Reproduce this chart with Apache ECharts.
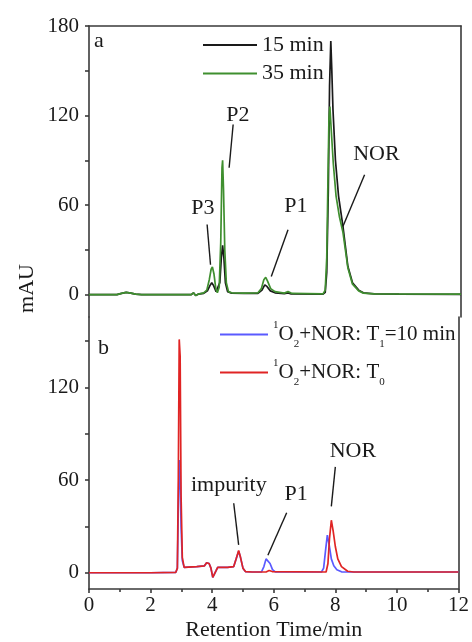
<!DOCTYPE html>
<html>
<head>
<meta charset="utf-8">
<script src="https://cdn.jsdelivr.net/npm/echarts@6/dist/echarts.min.js"></script>
<style>
  html, body { margin: 0; padding: 0; background: #fff; }
  #chart { width: 472px; height: 642px; }
</style>
</head>
<body>
<div id="chart"></div>
<script>
// HPLC traces, each point is [retention time (min), absorbance (mAU)]
const trace15min = [
  [0, 0], [0.9, 0], [1.05, 0.8], [1.2, 1.5], [1.35, 1.0], [1.5, 0.3], [1.7, 0],
  [3.3, 0], [3.37, 1.2], [3.44, -0.6], [3.52, 0.3], [3.7, 0.8], [3.82, 2.5],
  [3.9, 6], [3.96, 8], [4.02, 6], [4.1, 2], [4.16, 1.5], [4.22, 8], [4.27, 25],
  [4.31, 33], [4.35, 25], [4.4, 8], [4.47, 2], [4.6, 1], [5.0, 0.8], [5.45, 0.8],
  [5.58, 3], [5.67, 6.5], [5.74, 5.5], [5.85, 2.5], [6.0, 1.2], [6.3, 0.6],
  [6.42, 1.2], [6.52, 0.5], [7.55, 0.3], [7.62, 1.5], [7.67, 15], [7.72, 70],
  [7.76, 140], [7.8, 170], [7.83, 152], [7.87, 124], [7.95, 90], [8.05, 66],
  [8.19, 46], [8.35, 19], [8.5, 8], [8.7, 3], [8.85, 1.2], [9.2, 0.5],
  [10.0, 0.3], [12, 0.2]
];
const trace35min = [
  [0, 0], [0.9, 0], [1.05, 0.8], [1.2, 1.5], [1.35, 1.0], [1.5, 0.3], [1.7, 0],
  [3.3, 0], [3.37, 1.2], [3.44, -0.6], [3.52, 0.3], [3.7, 1.2], [3.8, 3],
  [3.88, 10], [3.94, 17], [3.98, 18.5], [4.03, 14], [4.09, 4], [4.14, 1.2],
  [4.2, 5], [4.25, 35], [4.29, 85], [4.31, 90], [4.34, 70], [4.38, 30],
  [4.43, 8], [4.5, 2], [4.6, 1.2], [5.0, 1.0], [5.45, 1.2], [5.56, 4],
  [5.64, 10], [5.7, 11.6], [5.76, 9], [5.86, 4], [6.0, 2], [6.3, 1], [6.42, 2],
  [6.55, 0.8], [7.55, 0.5], [7.62, 3], [7.67, 25], [7.71, 80], [7.74, 118],
  [7.77, 126], [7.81, 112], [7.88, 88], [7.97, 66], [8.08, 52], [8.19, 42],
  [8.35, 18], [8.5, 7], [8.7, 2.5], [8.85, 1], [9.2, 0.5], [12, 0.3]
];
const traceT1 = [
  [0, 0], [1.0, 0], [2.0, 0], [2.82, 0.3], [2.87, 3], [2.9, 40], [2.93, 73],
  [2.96, 65], [2.99, 30], [3.03, 8], [3.09, 3.5], [3.15, 4], [3.5, 4],
  [3.75, 4.5], [3.82, 6.5], [3.9, 6], [3.96, 3], [4.02, -3], [4.06, -3.8],
  [4.12, 1], [4.18, 3.5], [4.5, 3.5], [4.7, 4], [4.78, 9], [4.86, 14],
  [4.92, 10], [5.0, 3], [5.08, 0.8], [5.3, 0.5], [5.6, 0.5], [5.68, 4],
  [5.75, 9], [5.81, 10], [5.88, 6], [5.96, 2], [6.05, 0.6], [7.55, 0.5],
  [7.62, 3], [7.68, 14], [7.74, 24.4], [7.8, 18], [7.87, 9], [7.95, 4.5],
  [8.05, 2], [8.2, 0.6], [12, 0.5]
];
const traceT0 = [
  [0, 0], [1.0, 0], [2.0, 0], [2.82, 0.3], [2.87, 3], [2.9, 60], [2.93, 151],
  [2.96, 140], [2.99, 50], [3.03, 10], [3.09, 3.5], [3.15, 4], [3.5, 4],
  [3.75, 4.5], [3.82, 6.5], [3.9, 6], [3.96, 3], [4.02, -3], [4.06, -3.8],
  [4.12, 1], [4.18, 3.5], [4.5, 3.5], [4.7, 4], [4.78, 9], [4.86, 14.4],
  [4.92, 10], [5.0, 3], [5.08, 0.8], [5.3, 0.5], [5.75, 0.5], [5.85, 1.5],
  [5.95, 0.8], [7.7, 0.5], [7.76, 6], [7.81, 22], [7.87, 34], [7.93, 27],
  [8.0, 17], [8.08, 9], [8.2, 4], [8.4, 1], [8.6, 0.5], [12, 0.5]
];

// Axis tick values (labels only on every other tick)
const topTickValues = [0, 30, 60, 90, 120, 150, 180];
const topLabelValues = [0, 60, 120, 180];
const bottomTickValues = [0, 30, 60, 90, 120, 150];
const bottomLabelValues = [0, 60, 120];

// Peak annotations in data units: label anchor, arrow start and arrow tip
const topNotes = [
  { name: 'a', at: [0.32, 170] },
  { name: 'P3', at: [3.67, 58], from: [3.81, 47], to: [3.92, 20] },
  { name: 'P2', at: [4.8, 120.5], from: [4.65, 114], to: [4.52, 85] },
  { name: 'P1', at: [6.67, 59], from: [6.42, 43.5], to: [5.88, 12.2] },
  { name: 'NOR', at: [9.27, 94.4], from: [8.89, 80.3], to: [8.19, 45.7] }
];
const bottomNotes = [
  { name: 'b', at: [0.47, 145] },
  { name: 'impurity', at: [4.54, 56.4], from: [4.7, 45], to: [4.86, 18] },
  { name: 'P1', at: [6.73, 51], from: [6.42, 38.8], to: [5.81, 11.3] },
  { name: 'NOR', at: [8.57, 78.7], from: [8.0, 68.5], to: [7.87, 43] }
];

const FONT = 'Liberation Serif';
const INK = '#1a1a1a';
const FRAME = { color: '#3a3a3a', width: 1.6 };

function frameAxis(gridIndex, min, max) {
  return {
    type: 'value', gridIndex, min, max, position: 'right',
    axisLine: { show: true, onZero: false, lineStyle: FRAME },
    axisTick: { show: false }, axisLabel: { show: false }, splitLine: { show: false }
  };
}
function valueAxis(gridIndex, min, max, ticks, labels) {
  return {
    type: 'value', gridIndex, min, max, position: 'left',
    axisLine: { show: true, onZero: false, lineStyle: FRAME },
    axisTick: { show: true, customValues: ticks, length: 4, lineStyle: FRAME },
    axisLabel: { show: true, customValues: labels, margin: 10, fontFamily: FONT, fontSize: 21, color: INK },
    splitLine: { show: false }
  };
}
function noteSeries(notes, xi, yi) {
  return {
    type: 'scatter', xAxisIndex: xi, yAxisIndex: yi, symbolSize: 0, silent: true, z: 5,
    itemStyle: { opacity: 1 },
    data: notes.map(n => ({ name: n.name, value: n.at })),
    label: {
      show: true, position: 'inside', formatter: '{b}',
      fontFamily: FONT, fontSize: 22, color: INK, opacity: 1
    },
    markLine: {
      silent: true, symbol: ['none', 'arrow'], symbolSize: [0, 9],
      lineStyle: { color: INK, width: 1.4, type: 'solid', opacity: 1 },
      label: { show: false }, emphasis: { disabled: true },
      data: notes.filter(n => n.from).map(n => [{ coord: n.from }, { coord: n.to }])
    }
  };
}
function trace(name, data, color, xi, yi) {
  return {
    type: 'line', name, data, xAxisIndex: xi, yAxisIndex: yi,
    symbol: 'none', smooth: false, silent: true,
    lineStyle: { color, width: 1.7 }, itemStyle: { color }
  };
}

const chart = echarts.init(document.getElementById('chart'), null, { renderer: 'canvas' });
chart.setOption({
  animation: false,
  backgroundColor: '#fff',
  grid: [
    { left: 89, right: 11, top: 26, height: 291 },
    { left: 89, right: 11, top: 317, height: 277 }
  ],
  xAxis: [
    {
      type: 'value', gridIndex: 0, min: 0, max: 12, position: 'top',
      axisLine: { show: true, onZero: false, lineStyle: FRAME },
      axisTick: { show: false }, axisLabel: { show: false }, splitLine: { show: false }
    },
    {
      type: 'value', gridIndex: 1, min: 0, max: 12, interval: 2, position: 'bottom',
      axisLine: { show: true, onZero: false, lineStyle: FRAME },
      axisTick: { show: true, length: 4, lineStyle: FRAME },
      minorTick: { show: true, splitNumber: 2, length: 3, lineStyle: FRAME },
      axisLabel: { margin: 6, fontFamily: FONT, fontSize: 21, color: INK },
      splitLine: { show: false },
      name: 'Retention Time/min', nameLocation: 'middle', nameGap: 30,
      nameTextStyle: { fontFamily: FONT, fontSize: 22, color: INK }
    }
  ],
  yAxis: [
    valueAxis(0, -15, 180, topTickValues, topLabelValues),
    frameAxis(0, -15, 180),
    valueAxis(1, -10.5, 165.5, bottomTickValues, bottomLabelValues),
    frameAxis(1, -10.5, 165.5)
  ],
  legend: [
    {
      data: ['15 min', '35 min'], orient: 'vertical', left: 198, top: 28,
      icon: 'rect', itemWidth: 54, itemHeight: 2, itemGap: 4.4, selectedMode: false,
      textStyle: { fontFamily: FONT, fontSize: 22, lineHeight: 24, color: INK }
    },
    {
      data: ['1O2+NOR: T1=10 min', '1O2+NOR: T0'], orient: 'vertical', left: 215, top: 314.5,
      icon: 'rect', itemWidth: 48, itemHeight: 2, itemGap: 8, selectedMode: false,
      formatter: function (name) {
        return name.indexOf('T1') > -1
          ? '{sup|1}{n|O}{sub|2}{n|+NOR: T}{sub|1}{n|=10 min}'
          : '{sup|1}{n|O}{sub|2}{n|+NOR: T}{sub|0}';
      },
      textStyle: {
        fontFamily: FONT, fontSize: 21, color: INK,
        rich: {
          n: { fontFamily: FONT, fontSize: 21, lineHeight: 30, color: INK },
          sup: { fontFamily: FONT, fontSize: 11, lineHeight: 20, verticalAlign: 'top', color: INK },
          sub: { fontFamily: FONT, fontSize: 11, lineHeight: 12, verticalAlign: 'bottom', color: INK }
        }
      }
    }
  ],
  graphic: [
    {
      type: 'text', left: 16, top: 264, rotation: Math.PI / 2,
      style: { text: 'mAU', fontFamily: FONT, fontSize: 22, fill: INK }
    }
  ],
  series: [
    trace('15 min', trace15min, '#1a1a1a', 0, 0),
    trace('35 min', trace35min, '#3f8f2f', 0, 0),
    trace('1O2+NOR: T1=10 min', traceT1, '#5a5aff', 1, 2),
    trace('1O2+NOR: T0', traceT0, '#e02424', 1, 2),
    noteSeries(topNotes, 0, 0),
    noteSeries(bottomNotes, 1, 2)
  ]
});
</script>
</body>
</html>
